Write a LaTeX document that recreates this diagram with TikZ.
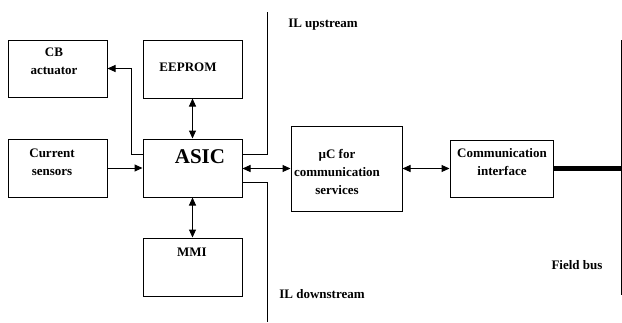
\documentclass[tikz,border=0pt]{standalone}
\usepackage{fontspec}
\setmainfont{Liberation Serif}
\usetikzlibrary{arrows.meta}
\begin{document}
\begin{tikzpicture}[x=1pt,y=-1pt,
  box/.style={draw, line width=1pt, inner sep=0pt},
  lbl/.style={font=\bfseries\fontsize{13}{18}\selectfont, align=center, inner sep=0pt},
  big/.style={font=\bfseries\fontsize{21}{24}\selectfont, inner sep=0pt},
  conn/.style={line width=1pt},
  tip/.tip={Triangle[length=8pt,width=7pt]},
  arr/.style={conn, -tip},
  darr/.style={conn, tip-tip}]
\useasboundingbox (0,0) rectangle (622,322);
% boxes
\node[box, minimum width=99pt, minimum height=57pt] (cb) at (57.5,68.5) {};
\node[box, minimum width=99pt, minimum height=58pt] (eeprom) at (192.5,69) {};
\node[box, minimum width=99pt, minimum height=58pt] (cs) at (57.5,168) {};
\node[box, minimum width=99pt, minimum height=58pt] (asic) at (192.5,168) {};
\node[box, minimum width=99pt, minimum height=58pt] (mmi) at (192.5,267) {};
\node[box, minimum width=111pt, minimum height=85pt] (uc) at (346.5,168.5) {};
\node[box, minimum width=103pt, minimum height=57pt] (ci) at (501.5,168.5) {};
% texts
\node[lbl] (tcb) at (54,61) {CB\\actuator};
\node[lbl] (tee) at (188,67) {EEPROM};
\node[lbl] (tcs) at (52,162) {Current\\sensors};
\node[big] (tasic) at (200,157) {ASIC};
\node[lbl] (tmmi) at (192,252) {MMI};
\node[lbl] (tuc) at (337,172) {\textmu C for\\communication\\services};
\node[lbl] (tci) at (502,162) {Communication\\interface};
\node[lbl] (tilu) at (323,25) {IL upstream};
\node[lbl] (tild) at (322,294) {IL downstream};
\node[lbl] (tfb) at (577,265) {Field bus};
% coordinates
\coordinate (ilup) at (267,12);
\coordinate (ildown) at (267,322);
\coordinate (bustop) at (621,40);
\coordinate (busbot) at (621,295);
% connectors
\draw[darr] (eeprom.south) -- (asic.north);
\draw[darr] (asic.south) -- (mmi.north);
\draw[arr] (cs.east) -- (asic.west);
\draw[darr] (asic.east |- uc.west) -- (uc.west);
\draw[darr] (uc.east) -- (ci.west);
\draw[arr] ([yshift=14pt]asic.west) -- ++(-11,0) |- (cb.east);
\draw[conn] ([yshift=14pt]asic.east) -| (ilup);
\draw[conn] ([yshift=-14pt]asic.east) -| (ildown);
\draw[conn] (bustop) -- (busbot);
\draw[line width=4.5pt] (ci.east) -- (ci.east -| bustop);
\end{tikzpicture}
\end{document}
